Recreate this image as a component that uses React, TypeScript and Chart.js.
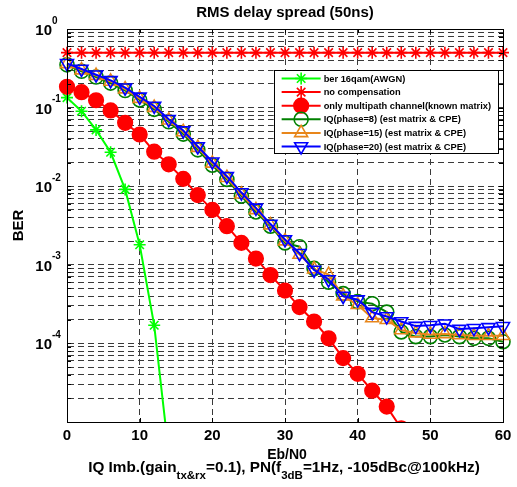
import React, { useEffect, useRef } from 'react';
import { Chart, registerables } from 'chart.js';
import { drawPoint } from 'chart.js/helpers';

Chart.register(...registerables);

const FONT = '"Liberation Sans", Arial, Helvetica, sans-serif';

const titleText = 'RMS delay spread (50ns)';
const xAxisLabel = 'Eb/N0';
const yAxisLabel = 'BER';
const footnoteParts: [string, boolean][] = [
  ['IQ Imb.(gain', false],
  ['tx&rx', true],
  ['=0.1), PN(f', false],
  ['3dB', true],
  ['=1Hz, -105dBc@100kHz)', false],
];

const xTickValues = [0, 10, 20, 30, 40, 50, 60];
const yLabelExponents = [0, -1, -2, -3, -4];
const yGridExponents = [-5, -4, -3, -2, -1];
const yGridMultipliers = [1, 2, 3, 4, 5, 6, 7, 8, 9];

const legendLabels = [
  'ber 16qam(AWGN)',
  'no compensation',
  'only multipath channel(known matrix)',
  'IQ(phase=8) (est matrix & CPE)',
  'IQ(phase=15) (est matrix & CPE)',
  'IQ(phase=20) (est matrix & CPE)',
];

const ebn0 = [0, 2, 4, 6, 8, 10, 12, 14, 16, 18, 20, 22, 24, 26, 28, 30, 32, 34, 36, 38, 40, 42, 44, 46, 48, 50, 52, 54, 56, 58, 60];

const awgnEbn0 = [0, 2, 4, 6, 8, 10, 12, 14];
const awgnBer = [0.134, 0.09, 0.052, 0.027, 0.0091, 0.0018, 0.00017, 0.000004];

const noCompBer = [0.5, 0.5, 0.5, 0.5, 0.5, 0.5, 0.5, 0.5, 0.5, 0.5, 0.5, 0.5, 0.5, 0.5, 0.5, 0.5, 0.5, 0.5, 0.5, 0.5, 0.5, 0.5, 0.5, 0.5, 0.5, 0.5, 0.5, 0.5, 0.5, 0.5, 0.5];

const multipathEbn0 = [0, 2, 4, 6, 8, 10, 12, 14, 16, 18, 20, 22, 24, 26, 28, 30, 32, 34, 36, 38, 40, 42, 44, 46];
const multipathBer = [0.184, 0.157, 0.124, 0.092, 0.064, 0.0455, 0.0275, 0.019, 0.0124, 0.0077, 0.005, 0.0031, 0.0019, 0.0012, 0.00074, 0.00047, 0.00029, 0.00019, 0.000116, 0.000065, 0.000041, 0.000025, 0.0000157, 0.0000083];

const iqPhase8Ber = [0.35, 0.29, 0.245, 0.205, 0.165, 0.125, 0.095, 0.066, 0.046, 0.029, 0.0185, 0.0122, 0.0075, 0.0047, 0.0031, 0.0019, 0.0017, 0.0009, 0.0006, 0.00043, 0.00034, 0.00032, 0.00025, 0.00014, 0.000122, 0.000122, 0.000128, 0.000122, 0.000116, 0.000116, 0.000105];
const iqPhase15Ber = [0.36, 0.3, 0.255, 0.215, 0.172, 0.13, 0.1, 0.069, 0.049, 0.031, 0.0195, 0.0128, 0.0079, 0.005, 0.0032, 0.002, 0.00135, 0.00088, 0.00075, 0.0004, 0.00031, 0.00021, 0.0002, 0.000148, 0.000135, 0.00013, 0.000132, 0.000128, 0.000125, 0.000125, 0.000125];
const iqPhase20Ber = [0.366, 0.31, 0.262, 0.222, 0.179, 0.137, 0.105, 0.071, 0.051, 0.032, 0.0205, 0.0134, 0.0083, 0.0053, 0.0033, 0.0021, 0.0014, 0.00086, 0.00065, 0.0004, 0.00036, 0.00025, 0.00022, 0.00019, 0.000166, 0.00017, 0.000178, 0.000152, 0.000156, 0.00016, 0.000165];

const toPoints = (xs: number[], ys: number[]) => ys.map((y, i) => ({ x: xs[i], y }));

type Style = {
  color: string;
  pointStyle: string;
  radius: number;
  rotation?: number;
  filled?: boolean;
};

const seriesStyles: Style[] = [
  { color: '#00ff00', pointStyle: 'star', radius: 6 },
  { color: '#ff0000', pointStyle: 'star', radius: 6 },
  { color: '#ff0000', pointStyle: 'circle', radius: 7.3, filled: true },
  { color: '#008000', pointStyle: 'circle', radius: 7 },
  { color: '#e8861a', pointStyle: 'triangle', radius: 7.5 },
  { color: '#0000ff', pointStyle: 'triangle', radius: 7.5, rotation: 180 },
];

const seriesData = [
  toPoints(awgnEbn0, awgnBer),
  toPoints(ebn0, noCompBer),
  toPoints(multipathEbn0, multipathBer),
  toPoints(ebn0, iqPhase8Ber),
  toPoints(ebn0, iqPhase15Ber),
  toPoints(ebn0, iqPhase20Ber),
];

const decorPlugin = {
  id: 'matlabDecor',
  afterDatasetsDraw(chart: any) {
    const { ctx, chartArea } = chart;
    const { left, right, top, bottom } = chartArea;
    const xs = chart.scales.x;
    const ys = chart.scales.y;
    ctx.save();
    ctx.strokeStyle = '#000';
    ctx.lineWidth = 1;
    ctx.beginPath();
    ctx.rect(Math.round(left) + 0.5, Math.round(top) + 0.5, Math.round(right - left), Math.round(bottom - top));
    ctx.stroke();
    const L = 4;
    ctx.beginPath();
    yGridExponents.forEach((e) => {
      yGridMultipliers.forEach((m) => {
        const yy = Math.round(ys.getPixelForValue(m * Math.pow(10, e))) + 0.5;
        ctx.moveTo(left, yy); ctx.lineTo(left + L, yy);
        ctx.moveTo(right, yy); ctx.lineTo(right - L, yy);
      });
    });
    xTickValues.forEach((v) => {
      const xx = Math.round(xs.getPixelForValue(v)) + 0.5;
      ctx.moveTo(xx, bottom); ctx.lineTo(xx, bottom - L);
      ctx.moveTo(xx, top); ctx.lineTo(xx, top + L);
    });
    ctx.stroke();

    // legend
    ctx.font = `bold 9.3px ${FONT}`;
    const maxW = Math.max(...legendLabels.map((t) => ctx.measureText(t).width));
    const lw = 50 + maxW + 7;
    const lRight = right - 5;
    const lLeft = lRight - lw;
    const lTop = top + 41;
    const step = 13.6;
    const lh = 15 + step * (legendLabels.length - 1);
    ctx.fillStyle = '#fff';
    ctx.fillRect(lLeft, lTop, lw, lh);
    ctx.strokeStyle = '#000';
    ctx.lineWidth = 1;
    ctx.strokeRect(Math.round(lLeft) + 0.5, Math.round(lTop) + 0.5, Math.round(lw), Math.round(lh));
    legendLabels.forEach((label, i) => {
      const st = seriesStyles[i];
      const cy = lTop + 8.5 + i * step;
      ctx.strokeStyle = st.color;
      ctx.lineWidth = 2;
      ctx.beginPath();
      ctx.moveTo(lLeft + 8, cy);
      ctx.lineTo(lLeft + 47, cy);
      ctx.stroke();
      ctx.fillStyle = st.filled ? st.color : 'rgba(0,0,0,0)';
      ctx.lineWidth = 1.6;
      drawPoint(ctx, { pointStyle: st.pointStyle, rotation: st.rotation || 0, radius: st.radius, borderWidth: 1.6 } as any, lLeft + 27.5, cy);
      ctx.fillStyle = '#000';
      ctx.textAlign = 'left';
      ctx.textBaseline = 'middle';
      ctx.fillText(label, lLeft + 50, cy + 0.5);
    });
    ctx.restore();
  },
  afterDraw(chart: any) {
    const { ctx, chartArea } = chart;
    const { left, right, top, bottom } = chartArea;
    const ys = chart.scales.y;
    const cx = (left + right) / 2;
    ctx.save();
    ctx.fillStyle = '#000';
    ctx.font = `bold 15px ${FONT}`;
    ctx.textAlign = 'center';
    ctx.textBaseline = 'alphabetic';
    ctx.fillText(titleText, cx, top - 12);
    yLabelExponents.forEach((e) => {
      const yy = ys.getPixelForValue(Math.pow(10, e));
      ctx.font = `bold 15px ${FONT}`;
      ctx.textAlign = 'right';
      ctx.fillText('10', left - 15, yy + 6);
      ctx.font = `bold 10px ${FONT}`;
      ctx.textAlign = 'left';
      ctx.fillText(String(e), left - 15, yy - 5.5);
    });
    ctx.font = `bold 14px ${FONT}`;
    ctx.textAlign = 'center';
    ctx.fillText(xAxisLabel, cx + 2, bottom + 37);
    const mainFont = `bold 15.3px ${FONT}`;
    const subFont = `bold 11.5px ${FONT}`;
    let total = 0;
    footnoteParts.forEach(([t, sub]) => {
      ctx.font = sub ? subFont : mainFont;
      total += ctx.measureText(t).width;
    });
    let x0 = cx - 1 - total / 2;
    ctx.textAlign = 'left';
    const baseY = bottom + 50;
    footnoteParts.forEach(([t, sub]) => {
      ctx.font = sub ? subFont : mainFont;
      ctx.fillText(t, x0, sub ? baseY + 7 : baseY);
      x0 += ctx.measureText(t).width;
    });
    ctx.save();
    ctx.translate(19, (top + bottom) / 2);
    ctx.rotate(-Math.PI / 2);
    ctx.font = `bold 15px ${FONT}`;
    ctx.textAlign = 'center';
    ctx.textBaseline = 'middle';
    ctx.fillText(yAxisLabel, 0, 0);
    ctx.restore();
    ctx.restore();
  },
};

export default function App() {
  const ref = useRef<HTMLCanvasElement | null>(null);
  useEffect(() => {
    document.body.style.margin = '0';
    const canvas = ref.current;
    if (!canvas) return;
    const yGridValues: number[] = [];
    yGridExponents.forEach((e) => yGridMultipliers.forEach((m) => yGridValues.push(m * Math.pow(10, e))));
    yGridValues.push(1);

    const datasets = seriesData.map((data, i) => {
      const st = seriesStyles[i];
      return {
        label: legendLabels[i],
        data,
        order: seriesData.length - i,
        borderColor: st.color,
        backgroundColor: st.color,
        borderWidth: 2,
        pointStyle: st.pointStyle,
        pointRotation: st.rotation || 0,
        pointRadius: st.radius,
        pointHoverRadius: st.radius,
        pointBorderColor: st.color,
        pointBackgroundColor: st.filled ? st.color : 'rgba(0,0,0,0)',
        pointBorderWidth: 1.6,
        fill: false,
        tension: 0,
        clip: { left: 12, right: 12, top: 12, bottom: 0 },
      };
    });

    const chart = new Chart(canvas, {
      type: 'line',
      data: { datasets },
      options: {
        animation: false,
        responsive: false,
        maintainAspectRatio: false,
        devicePixelRatio: 1,
        layout: { padding: { left: 0, right: 14, top: 29, bottom: 0 } },
        plugins: {
          legend: { display: false },
          title: { display: false },
          tooltip: { enabled: false },
        },
        scales: {
          x: {
            type: 'linear',
            min: 0,
            max: 60,
            afterBuildTicks: (scale: any) => {
              scale.ticks = xTickValues.map((v) => ({ value: v }));
            },
            afterFit: (scale: any) => {
              scale.height = 65;
            },
            ticks: {
              autoSkip: false,
              maxRotation: 0,
              padding: 5,
              color: '#000',
              font: { family: FONT, size: 15, weight: 'bold' },
            },
            grid: { color: '#3a3a3a', lineWidth: 1, drawTicks: false },
            border: { display: true, color: '#000', width: 1, dash: [6, 4] },
          },
          y: {
            type: 'logarithmic',
            min: 1e-5,
            max: 1,
            afterBuildTicks: (scale: any) => {
              scale.ticks = yGridValues.map((v) => ({ value: v }));
            },
            afterFit: (scale: any) => {
              scale.width = 67;
            },
            ticks: { display: false, autoSkip: false },
            grid: { color: '#3a3a3a', lineWidth: 1, drawTicks: false },
            border: { display: true, color: '#000', width: 1, dash: [6, 4] },
          },
        },
      } as any,
      plugins: [decorPlugin],
    });
    return () => chart.destroy();
  }, []);
  return (
    <div style={{ width: 517, height: 487 }}>
      <canvas ref={ref} width={517} height={487} style={{ display: 'block' }} />
    </div>
  );
}
